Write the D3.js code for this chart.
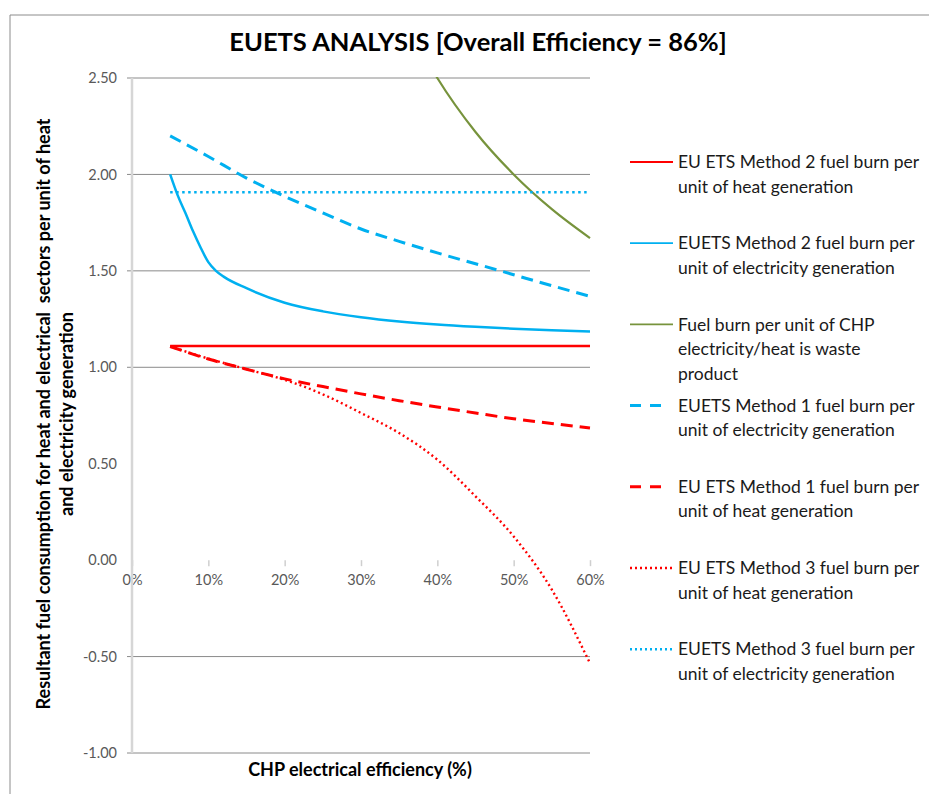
<!DOCTYPE html>
<html>
<head>
<meta charset="utf-8">
<script src="https://cdnjs.cloudflare.com/ajax/libs/d3/7.8.5/d3.min.js"></script>
<style>
  html, body { margin: 0; padding: 0; background: #fff; }
  svg { display: block; font-family: Lato, "Open Sans", sans-serif; }
  .tick text { fill: #595959; font-size: 14.5px; font-family: Lato, "Open Sans", sans-serif; }
  .legend text { fill: #1a1a1a; font-size: 17.5px; }
</style>
</head>
<body>
<svg id="chart" width="929" height="794"></svg>
<script>
// CHP electrical efficiency (%) sampled in the workbook
var effPct = [5, 10, 15, 20, 25, 30, 35, 40, 45, 50, 55, 60];
// method 2 electricity curve has extra points near its knee
var effPctFine = [5, 6, 7, 8, 9, 10, 11, 12, 15, 20, 25, 30, 35, 40, 45, 50, 55, 60];

var m2Heat  = [1.11, 1.11, 1.11, 1.11, 1.11, 1.11, 1.11, 1.11, 1.11, 1.11, 1.11, 1.11];
var m2Elec  = [2.00, 1.89, 1.80, 1.705, 1.62, 1.545, 1.50, 1.47, 1.41, 1.335, 1.29, 1.26, 1.238, 1.222, 1.21, 1.20, 1.192, 1.186];
var wasteHeat = [20.0, 10.0, 6.67, 5.00, 4.00, 3.33, 2.86, 2.50, 2.22, 2.00, 1.82, 1.67];
var m1Elec  = [2.20, 2.093, 1.981, 1.886, 1.80, 1.717, 1.653, 1.593, 1.537, 1.48, 1.423, 1.368];
var m1Heat  = [1.108, 1.043, 0.99, 0.94, 0.90, 0.862, 0.827, 0.794, 0.763, 0.733, 0.709, 0.685];
var m3Heat  = [1.108, 1.045, 0.99, 0.935, 0.86, 0.763, 0.659, 0.521, 0.331, 0.123, -0.153, -0.535];
var m3Elec  = [1.907, 1.907, 1.907, 1.907, 1.907, 1.907, 1.907, 1.907, 1.907, 1.907, 1.907, 1.907];

var yTicks = [2.5, 2.0, 1.5, 1.0, 0.5, 0.0, -0.5, -1.0];
var yGrid  = [2.5, 2.0, 1.5, 1.0, -0.5, -1.0];   // 0.50 and 0.00 lines don't show on the original
var xTicks = [0, 0.1, 0.2, 0.3, 0.4, 0.5, 0.6];

var legendLabels = [
  ["EU ETS Method 2 fuel burn per", "unit of heat generation"],
  ["EUETS Method 2 fuel burn per", "unit of electricity generation"],
  ["Fuel burn per unit of CHP", "electricity/heat is waste", "product"],
  ["EUETS Method 1 fuel burn per", "unit of electricity generation"],
  ["EU ETS Method 1 fuel burn per", "unit of heat generation"],
  ["EU ETS Method 3 fuel burn per", "unit of heat generation"],
  ["EUETS Method 3 fuel burn per", "unit of electricity generation"]
];

var RED = "#ff0000", BLUE = "#00b0f0", GREEN = "#77933c";

var series = [
  { xs: effPct,     ys: m2Heat,    color: RED,   width: 2.5, dash: null },
  { xs: effPctFine, ys: m2Elec,    color: BLUE,  width: 2.5, dash: null },
  { xs: effPct,     ys: wasteHeat, color: GREEN, width: 2.2, dash: null },
  { xs: effPct,     ys: m1Elec,    color: BLUE,  width: 3,   dash: "12,7" },
  { xs: effPct,     ys: m1Heat,    color: RED,   width: 3,   dash: "12,7" },
  { xs: effPct,     ys: m3Heat,    color: RED,   width: 2.4, dash: "2,3" },
  { xs: effPct,     ys: m3Elec,    color: BLUE,  width: 2.5, dash: "2.5,3.5" }
];

var svg = d3.select("#chart");

var x = d3.scaleLinear().domain([0, 0.6]).range([132, 590]);
var y = d3.scaleLinear().domain([-1, 2.5]).range([753, 78]);

// outer frame (only top and left edges are inside the picture)
svg.append("path")
    .attr("d", "M10,800 L10,15 L935,15")
    .attr("fill", "none")
    .attr("stroke", "#8c8c8c")
    .attr("stroke-width", 1);

svg.append("text")
    .attr("x", 478).attr("y", 42)
    .attr("dy", "0.35em")
    .attr("text-anchor", "middle")
    .style("font-size", "25.5px")
    .style("font-weight", "bold")
    .style("fill", "#000")
    .text("EUETS ANALYSIS [Overall Efficiency = 86%]");

// gridlines
svg.append("g").selectAll("line")
    .data(yGrid)
    .join("line")
    .attr("x1", 127).attr("x2", x(0.6))
    .attr("y1", d => y(d)).attr("y2", d => y(d))
    .attr("stroke", "#8a8a8a")
    .attr("stroke-width", 1);

// y axis labels
var yAxis = svg.append("g")
    .attr("transform", "translate(" + x(0) + ",0)")
    .call(d3.axisLeft(y).tickValues(yTicks).tickSize(0).tickPadding(15)
        .tickFormat(d => d.toFixed(2)));
yAxis.select(".domain").remove();

// x axis sits on y = 0
var xAxis = svg.append("g")
    .attr("transform", "translate(0," + y(0) + ")")
    .call(d3.axisBottom(x).tickValues(xTicks).tickSize(6).tickPadding(9)
        .tickFormat(d3.format(".0%")));
xAxis.select(".domain").remove();
xAxis.selectAll(".tick line").attr("stroke", "#cfcfcf").attr("stroke-width", 1.5);

svg.append("line")
    .attr("x1", x(0)).attr("x2", x(0))
    .attr("y1", y(2.5)).attr("y2", y(-1))
    .attr("stroke", "#d6d6d6")
    .attr("stroke-width", 2.5);

svg.append("clipPath").attr("id", "plot-clip")
  .append("rect")
    .attr("x", x(0)).attr("y", y(2.5) - 1)
    .attr("width", x(0.6) - x(0) + 4)
    .attr("height", y(-1) - y(2.5) + 2);

var line = d3.line().curve(d3.curveMonotoneX);

svg.append("g").attr("clip-path", "url(#plot-clip)")
  .selectAll("path")
    .data(series)
    .join("path")
    .attr("d", s => line(s.xs.map((p, i) => [x(p / 100), y(s.ys[i])])))
    .attr("fill", "none")
    .attr("stroke", s => s.color)
    .attr("stroke-width", s => s.width)
    .attr("stroke-dasharray", s => s.dash);

// axis titles
svg.append("text")
    .attr("x", 360).attr("y", 770)
    .attr("dy", "0.35em")
    .attr("text-anchor", "middle")
    .style("font-size", "18px")
    .style("font-weight", "bold")
    .text("CHP electrical efficiency (%)");

var yTitle = svg.append("text")
    .attr("transform", "translate(44,414) rotate(-90)")
    .attr("text-anchor", "middle")
    .style("font-size", "18px")
    .style("font-weight", "bold")
    .style("white-space", "pre");
yTitle.append("tspan").attr("x", 0).attr("dy", "0.35em")
    .text("Resultant fuel consumption for heat and electrical  sectors per unit of heat");
yTitle.append("tspan").attr("x", 0).attr("dy", "1.28em")
    .text("and electricity generation");

// legend
var legend = svg.append("g").attr("class", "legend");
var entry = legend.selectAll("g")
    .data(series)
    .join("g")
    .attr("transform", (s, i) => "translate(630," + (162 + i * 81.2) + ")");

entry.append("line")
    .attr("x1", 0).attr("x2", s => s.dash && s.width === 3 ? 31 : 43)
    .attr("y1", 0).attr("y2", 0)
    .attr("stroke", s => s.color)
    .attr("stroke-width", s => s.dash ? s.width : 1.8)
    .attr("stroke-dasharray", s => s.dash ? (s.width === 3 ? "11,9" : "2,3") : null);

entry.append("text")
    .attr("x", 48)
    .selectAll("tspan")
    .data((s, i) => legendLabels[i])
    .join("tspan")
    .attr("x", 48)
    .attr("y", (t, j) => j * 24.5)
    .attr("dy", "0.35em")
    .text(t => t);
</script>
</body>
</html>
